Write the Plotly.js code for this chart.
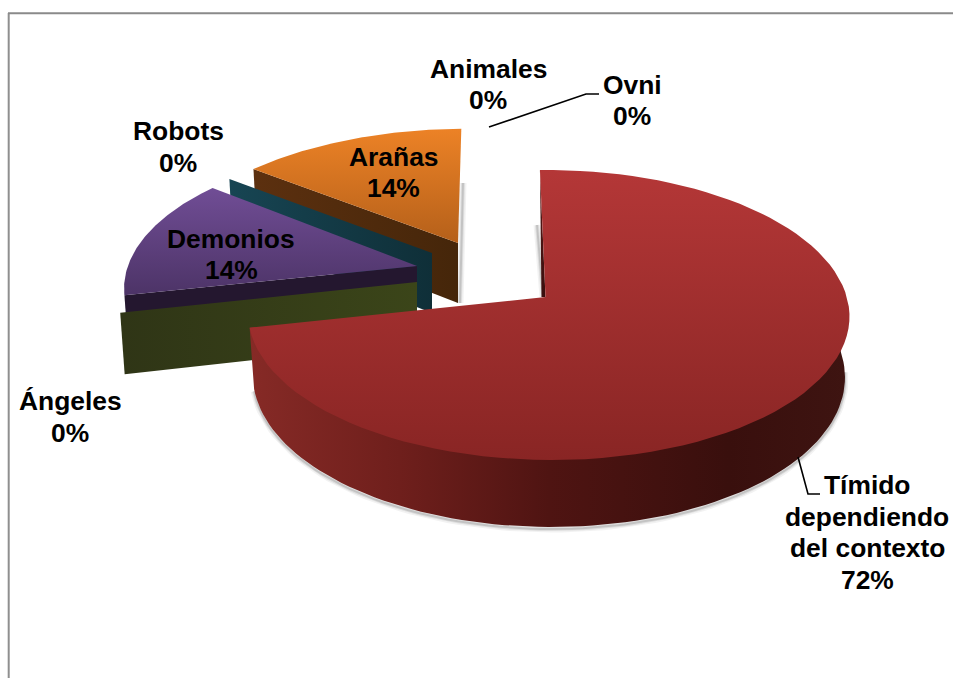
<!DOCTYPE html>
<html>
<head>
<meta charset="utf-8">
<script src="https://cdn.plot.ly/plotly-3.0.1.min.js"></script>
<style>html,body{margin:0;padding:0;background:#fff}#chart{width:953px;height:678px}</style>
</head>
<body>
<div id="chart"></div>
<script>
// Slices in clockwise order from twelve o'clock
const categories = ['Tímido|dependiendo|del contexto', 'Ángeles', 'Demonios', 'Robots', 'Arañas', 'Animales', 'Ovni'];
const percents = [72, 0, 14, 0, 14, 0, 0];

// Pie camera: perspective of the disc and how far the first slice is rotated
const START_ANGLE = -1.3, PERSP_D = 8.06, FOCAL_X = 2390, FOCAL_Y = 1151;

// Cumulative slice boundaries in degrees, derived from the percentages
const bounds = [];
percents.reduce((sum, p, i) => { bounds[i] = [START_ANGLE + sum * 3.6, START_ANGLE + (sum + p) * 3.6]; return sum + p; }, 0);

const rad = d => d * Math.PI / 180;

// Project a point of a slice's disc onto the page. `g` holds the exploded hub and scale.
function rimPoint(deg, g, lower) {
  const X = Math.sin(rad(deg)), Y = Math.cos(rad(deg)), w = PERSP_D + Y;
  const dy = -g.sy * FOCAL_Y * Y / w;
  let dx = g.sx * FOCAL_X * X / w + (g.skew || 0) * dy;
  if (!lower) return [g.x + dx, g.y + dy];
  return [g.x + dx * 0.985, g.y + dy + g.depth - 7 * Y];
}
function arc(a0, a1, g, lower) {
  const n = 90, out = [];
  for (let i = 0; i <= n; i++) out.push(rimPoint(a0 + (a1 - a0) * i / n, g, lower));
  return out;
}
function poly(pts, type, stops, start, stop) {
  return {
    type: 'scatter', mode: 'lines', hoverinfo: 'skip', showlegend: false,
    x: pts.map(p => p[0]), y: pts.map(p => p[1]),
    line: {width: 0}, fill: 'toself',
    fillgradient: {type: type, colorscale: stops, start: start, stop: stop}
  };
}
function softEdge(pts) {
  return [[7, 0.05], [4, 0.08], [2, 0.12]].map(([w, o]) => ({
    type: 'scatter', mode: 'lines', hoverinfo: 'skip', showlegend: false,
    x: pts.map(p => p[0]), y: pts.map(p => p[1]),
    line: {width: w, color: 'rgba(0,0,0,' + o + ')'}
  }));
}
// Flat cut face of a slice at one angle
function cutFace(deg, g) {
  const a = rimPoint(deg, g), b = rimPoint(deg, g, true);
  return [[g.x, g.y], a, b, [g.x, g.y + g.depth], [g.x, g.y]];
}

const geoMain = {x: 548.5, y: 297, sx: 1.006, sy: 1, skew: 0.02, depth: 60, hubX: 545.5};
const geoSpider = {x: 458, y: 243, sx: 0.974, sy: 0.9, skew: -0.08, depth: 60};
const geoRobot = {x: 432, y: 253, sx: 0.965, sy: 0.9, skew: -0.08, depth: 60};
const geoDemon = {x: 417, y: 266, sx: 0.975, sy: 0.95, skew: -0.08, depth: 60};
const geoAngel = {x: 417, y: 282, sx: 0.997, sy: 1, depth: 60};

const [mainA, mainB] = bounds[0], [demonA, demonB] = bounds[2], [spiderA, spiderB] = bounds[4];
const robotAngle = bounds[3][0], angelAngle = bounds[1][0];

const traces = [];

// Arañas: soft shadow, cut face, top
traces.push(...softEdge([[463, 183], [460, 303]]));
traces.push(poly(cutFace(spiderA, geoSpider), 'horizontal',
  [[0, '#5c300f'], [1, '#45260a']], 254, 458));
traces.push(poly([[geoSpider.x, geoSpider.y], ...arc(spiderA, spiderB, geoSpider), [geoSpider.x, geoSpider.y]], 'vertical',
  [[0, '#ec8226'], [1, '#b5601a']], 129, 243));

// Robots: the empty slice only shows its wall
traces.push(poly(cutFace(robotAngle, geoRobot), 'horizontal',
  [[0, '#174553'], [1, '#0f2f38']], 229, 433));

// Demonios
traces.push(poly(cutFace(demonA, geoDemon), 'horizontal',
  [[0, '#24172f'], [1, '#24172f']], 120, 417));
traces.push(poly([[geoDemon.x, geoDemon.y], ...arc(demonA, demonB, geoDemon), [geoDemon.x, geoDemon.y]], 'vertical',
  [[0, '#704d95'], [1, '#4c3366']], 189, 297));

// Ángeles: wall of the empty slice
traces.push(poly(cutFace(angelAngle, geoAngel), 'horizontal',
  [[0, '#2f3516'], [1, '#3b4519']], 120, 417));

// Tímido: shadow under the drum, back sliver, drum wall, top
traces.push(...softEdge(arc(95, mainB, {...geoMain, depth: 62}, true)));
traces.push(...softEdge([[537, 225], [543, 297]]));
const rimStart = rimPoint(mainA, geoMain);
traces.push(poly([rimStart, [geoMain.hubX, geoMain.y], [geoMain.hubX - 4, geoMain.y], rimStart], 'vertical',
  [[0, '#5a1a18'], [1, '#3a0f0e']], 170, 297));
// The wall's upper edge runs slightly under the top so no seam shows along the rim
const front = arc(mainB, 88, geoMain).map(([x, y]) => [geoMain.x + (x - geoMain.x) * 0.98, geoMain.y + (y - geoMain.y) * 0.98]);
const frontLow = arc(88, mainB, geoMain, true);
const corner = rimPoint(mainB, geoMain);
traces.push(poly([corner, ...front, ...frontLow, corner], 'horizontal',
  [[0, '#862a26'], [0.25, '#6f1f1c'], [0.5, '#4f1412'], [0.8, '#390f0d'], [1, '#3e1411']], 250, 848));
traces.push(poly([[geoMain.hubX, geoMain.y], ...arc(mainA, mainB, geoMain), [geoMain.hubX, geoMain.y]], 'vertical',
  [[0, '#b43737'], [1, '#892524']], 170, 460));

// Label block centre of each slice, in page units; every line is placed on its own
const LINE_STEP = 31.7;
const labelCentres = [[867, 532.5], [70, 417], [231, 254.5], [178, 147], [393, 172.5], [488, 84.5], [632, 100.5]];
const annotations = [];
categories.forEach((c, i) => {
  const lines = [...c.split('|'), percents[i] + '%'];
  lines.forEach((t, k) => annotations.push({
    x: labelCentres[i][0], y: labelCentres[i][1] + (k - (lines.length - 1) / 2) * LINE_STEP,
    xref: 'x', yref: 'y', text: '<b>' + t + '</b>', showarrow: false,
    xanchor: 'center', yanchor: 'middle', align: 'center',
    font: {family: '"Liberation Sans", Arial, sans-serif', size: 26.4, color: '#000'}
  }));
});

const layout = {
  width: 953, height: 678, margin: {l: 0, r: 0, t: 0, b: 0},
  paper_bgcolor: '#fff', plot_bgcolor: '#fff', showlegend: false,
  xaxis: {range: [0, 953], visible: false, fixedrange: true},
  yaxis: {range: [678, 0], visible: false, fixedrange: true},
  annotations: annotations,
  shapes: [
    // chart frame
    {type: 'line', x0: 8.7, x1: 8.7, y0: 13, y1: 678, line: {color: '#8f8f8f', width: 2}},
    {type: 'line', x0: 8, x1: 953, y0: 13.2, y1: 13.2, line: {color: '#8a8a8a', width: 2}},
    // leader lines
    {type: 'path', path: 'M798,457 L808,494 L820,494', line: {color: '#000', width: 1.6}},
    {type: 'path', path: 'M489,127 L586,94 L599,94', line: {color: '#000', width: 1.6}}
  ]
};

Plotly.newPlot('chart', traces, layout, {displayModeBar: false, staticPlot: true});
</script>
</body>
</html>
